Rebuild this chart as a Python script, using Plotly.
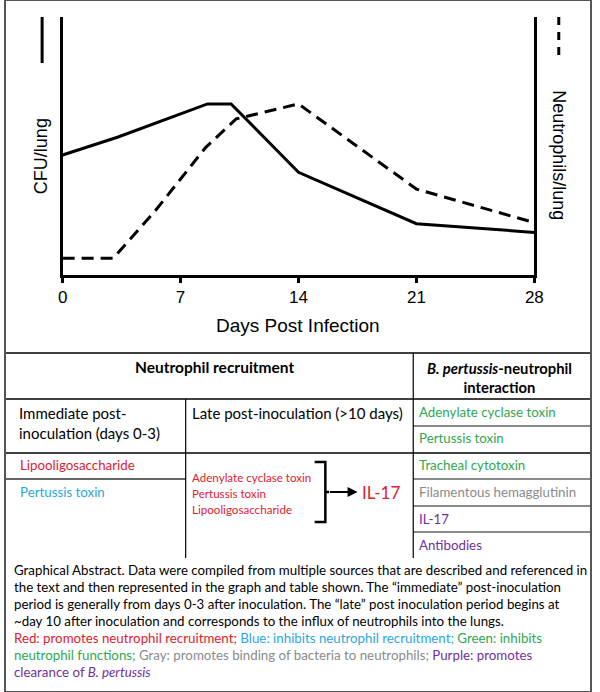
import plotly.graph_objects as go

W, H = 600, 692

# ---------------- data (arbitrary units 0-100) ----------------
days_cfu = [0, 3.25, 8.6, 10, 14, 21, 28]
cfu_per_lung = [46.5, 53.4, 66.3, 66.3, 39.8, 19.9, 16.5]
days_neut = [0, 3, 5.5, 8.5, 10.3, 14, 21, 28]
neutrophils_per_lung = [6.5, 6.5, 24.9, 49.5, 60.5, 66.3, 33.3, 20.3]
x_ticks = [0, 7, 14, 21, 28]

RED, BLUE, GREEN, GRAY, PURPLE = "#E0202E", "#2AA8DE", "#2FA652", "#8A8A8A", "#7030A0"

header_left = "Neutrophil recruitment"
header_right = "<b><i>B. pertussis</i>-neutrophil</b><br><b>interaction</b>"
col1_title = "Immediate post-<br>inoculation (days 0-3)"
col2_title = "Late post-inoculation (>10 days)"
immediate_items = ["Lipooligosaccharide", "Pertussis toxin"]
immediate_colors = [RED, BLUE]
late_items = ["Adenylate cyclase toxin", "Pertussis toxin", "Lipooligosaccharide"]
late_product = "IL-17"
interaction_items = ["Adenylate cyclase toxin", "Pertussis toxin", "Tracheal cytotoxin",
                     "Filamentous hemagglutinin", "IL-17", "Antibodies"]
interaction_colors = [GREEN, GREEN, GREEN, GRAY, PURPLE, PURPLE]

caption_lines = [
    "Graphical Abstract. Data were compiled from multiple sources that are described and referenced in",
    "the text and then represented in the graph and table shown. The \u201cimmediate\u201d post-inoculation",
    "period is generally from days 0-3 after inoculation. The \u201clate\u201d post inoculation period begins at",
    "~day 10 after inoculation and corresponds to the influx of neutrophils into the lungs.",
    f"<span style='color:{RED}'>Red: promotes neutrophil recruitment; </span>"
    f"<span style='color:{BLUE}'>Blue: inhibits neutrophil recruitment; </span>"
    f"<span style='color:{GREEN}'>Green: inhibits</span>",
    f"<span style='color:{GREEN}'>neutrophil functions; </span>"
    f"<span style='color:{GRAY}'>Gray: promotes binding of bacteria to neutrophils; </span>"
    f"<span style='color:{PURPLE}'>Purple: promotes</span>",
    f"<span style='color:{PURPLE}'>clearance of <i>B. pertussis</i></span>",
]


def px(x):
    return x / W


def py(y):
    return 1 - y / H


CHART_FONT = "Liberation Sans, Arial, sans-serif"
TABLE_FONT = "Lato, Open Sans, sans-serif"

fig = go.Figure()
fig.add_trace(go.Scatter(x=days_cfu, y=cfu_per_lung, mode="lines",
                         line=dict(color="black", width=3), showlegend=False))
fig.add_trace(go.Scatter(x=days_neut, y=neutrophils_per_lung, mode="lines", yaxis="y2",
                         line=dict(color="black", width=3, dash="12px,7px"), showlegend=False))

fig.update_layout(
    width=W, height=H,
    margin=dict(l=0, r=0, t=0, b=0),
    paper_bgcolor="white", plot_bgcolor="white",
    font=dict(family=CHART_FONT, color="black"),
    xaxis=dict(domain=[px(59), px(542)], range=[0, 28], tickvals=x_ticks,
               showline=True, linecolor="black", linewidth=3, ticks="outside",
               ticklen=5, tickwidth=3, tickcolor="black", showgrid=False, zeroline=False,
               tickfont=dict(size=17, family=CHART_FONT)),
    yaxis=dict(domain=[py(275), py(17)], range=[0, 100], showline=True, linecolor="black",
               linewidth=3, showticklabels=False, ticks="", showgrid=False, zeroline=False),
    yaxis2=dict(overlaying="y", side="right", range=[0, 100], showline=True, linecolor="black",
                linewidth=3, showticklabels=False, ticks="", showgrid=False, zeroline=False,
                anchor="x"),
)

shapes = []
annotations = []

# legend marks next to axis titles
shapes.append(dict(type="line", xref="paper", yref="paper", x0=px(38), x1=px(38),
                   y0=py(17), y1=py(63), line=dict(color="black", width=3)))
shapes.append(dict(type="line", xref="paper", yref="paper", x0=px(567), x1=px(567),
                   y0=py(17), y1=py(58), line=dict(color="black", width=3, dash="8px,7px")))

annotations.append(dict(text="CFU/lung", xref="paper", yref="paper", x=px(37), y=py(156),
                        xanchor="center", yanchor="middle",
                        textangle=-90, showarrow=False, font=dict(size=18, family=CHART_FONT)))
annotations.append(dict(text="Neutrophils/lung", xref="paper", yref="paper", x=px(567), y=py(155),
                        xanchor="center", yanchor="middle",
                        textangle=90, showarrow=False, font=dict(size=18, family=CHART_FONT)))
annotations.append(dict(text="Days Post Infection", xref="paper", yref="paper", x=px(300), y=py(325),
                        xanchor="center", yanchor="middle",
                        showarrow=False, font=dict(size=19, family=CHART_FONT)))

# ---------------- table lines ----------------
def hline(y, x0, x1, color="black", width=1.5):
    shapes.append(dict(type="line", xref="paper", yref="paper", x0=px(x0), x1=px(x1),
                       y0=py(y), y1=py(y), line=dict(color=color, width=width)))


def vline(x, y0, y1, color="black", width=1.2):
    shapes.append(dict(type="line", xref="paper", yref="paper", x0=px(x), x1=px(x),
                       y0=py(y0), y1=py(y1), line=dict(color=color, width=width)))


hline(353, 0, 600)
hline(399, 0, 600)
hline(453, 0, 600)
hline(479, 0, 185, color="#333333")
for yy in [426, 479, 506, 532]:
    hline(yy, 418, 600, color=GRAY, width=2)
vline(418, 353, 558)
vline(185, 399, 558)

# bracket
path = (f"M {px(317)},{py(462)} L {px(328)},{py(462)} L {px(328)},{py(522)} L {px(317)},{py(522)} "
        f"M {px(328)},{py(492)} L {px(332)},{py(492)}")
shapes.append(dict(type="path", xref="paper", yref="paper", path=path,
                   line=dict(color="black", width=2.5)))

# outer border
shapes.append(dict(type="rect", xref="paper", yref="paper", x0=0, x1=1, y0=0, y1=1,
                   line=dict(color="#555555", width=2)))


def text(t, x, y, size, color="black", xanchor="left", bold=False):
    if bold:
        t = f"<b>{t}</b>"
    annotations.append(dict(text=t, xref="paper", yref="paper", x=px(x), y=py(y),
                            xanchor=xanchor, yanchor="middle", showarrow=False,
                            align="left" if xanchor == "left" else "center",
                            font=dict(size=size, color=color, family=TABLE_FONT)))


text(header_left, 214, 367, 15.5, xanchor="center", bold=True)
annotations.append(dict(text=header_right, xref="paper", yref="paper", x=px(506), y=py(377),
                        xanchor="center", yanchor="middle", showarrow=False, align="center",
                        font=dict(size=14.8, color="black", family=TABLE_FONT)))
annotations.append(dict(text=col1_title, xref="paper", yref="paper", x=px(12), y=py(423),
                        xanchor="left", yanchor="middle", showarrow=False, align="left",
                        font=dict(size=15, color="black", family=TABLE_FONT)))
text(col2_title, 189, 413, 15)

for item, col, yy in zip(immediate_items, immediate_colors, [465, 492]):
    text(item, 13, yy, 13.3, color=col)
for item, yy in zip(late_items, [477, 493, 509]):
    text(item, 189, yy, 11.6, color=RED)
text(late_product, 363, 492, 17, color=RED)
annotations.append(dict(text="", xref="paper", yref="paper", x=px(361), y=py(492),
                        ax=-29, ay=0, showarrow=True, arrowhead=2, arrowsize=1,
                        arrowwidth=2, arrowcolor="black"))

for item, col, yy in zip(interaction_items, interaction_colors, [412, 438, 465, 492, 519, 545]):
    text(item, 422, yy, 13.3, color=col)

for i, line in enumerate(caption_lines):
    text(line, 7, 570 + 17 * i, 13.3)

fig.update_layout(shapes=shapes, annotations=annotations)
fig.write_html("out.html", config={"displayModeBar": False},
               post_script="document.body.style.margin='0';document.body.style.overflow='hidden';")
